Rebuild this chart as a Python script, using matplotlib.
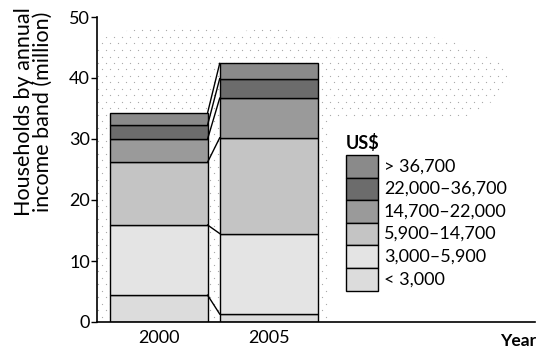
import matplotlib
matplotlib.use("Agg")
import matplotlib.pyplot as plt
import numpy as np
from matplotlib.patches import Rectangle, Polygon

years = ["2000", "2005"]
bands = ["< 3,000", "3,000–5,900", "5,900–14,700", "14,700–22,000", "22,000–36,700", "> 36,700"]
v2000 = [4.4, 11.5, 10.3, 3.8, 2.3, 2.0]
v2005 = [1.3, 13.2, 15.7, 6.5, 3.2, 2.5]
colors = ["#dcdcdc", "#e4e4e4", "#c4c4c4", "#9a9a9a", "#6c6c6c", "#8a8a8a"]

plt.rcParams['font.family'] = ['Lato', 'DejaVu Sans']

W, H = 547, 353
fig = plt.figure(figsize=(W/100, H/100), dpi=100)
ax = fig.add_axes([97/W, 31/H, (535-97)/W, (322-17)/H])

x = np.arange(len(years))
width = 0.89
data = np.array([v2000, v2005])

# faint stippled background (decorative), outline in pixel coordinates
px = [97, 97, 130, 180, 230, 280, 330, 380, 410, 450, 475, 500, 510, 495, 470, 330, 328]
py = [322, 40, 30, 25, 32, 28, 38, 35, 33, 40, 50, 62, 82, 100, 116, 118, 322]
poly_pts = [((p - 159) / 110, (322 - q) / 6.1) for p, q in zip(px, py)]
poly = Polygon(poly_pts, closed=True, facecolor='none', edgecolor='none', transform=ax.transData)
ax.add_patch(poly)
gx, gy = np.meshgrid(np.arange(98, 512, 8.0), np.arange(24, 322, 6.5))
gx = gx + (np.arange(gx.shape[0])[:, None] % 2) * 4.0
dots = ax.scatter((gx.ravel() - 159) / 110, (322 - gy.ravel()) / 6.1, s=0.8,
                  color='#a8a8a8', linewidths=0, zorder=0)
dots.set_clip_path(poly)

bottoms = np.zeros(len(years))
for i, band in enumerate(bands):
    vals = data[:, i]
    ax.bar(x, vals, width, bottom=bottoms, color=colors[i], edgecolor='black',
           linewidth=1.0, zorder=2)
    bottoms = bottoms + vals

# connector lines between bars
cum = np.cumsum(np.hstack([np.zeros((2, 1)), data]), axis=1)
for j in range(cum.shape[1]):
    ax.plot([x[0] + width/2, x[1] - width/2], [cum[0, j], cum[1, j]],
            color='black', lw=1.0, zorder=3)

ax.set_ylim(0, 50)
ax.set_xlim(-0.56, 3.42)
ax.set_yticks([0, 10, 20, 30, 40, 50])
ax.set_xticks(x)
ax.set_xticklabels(years, fontsize=13)
ax.tick_params(axis='x', length=0, pad=6)
ax.tick_params(axis='y', direction='out', length=4, width=1, labelsize=13, pad=1)
for s in ['top', 'right']:
    ax.spines[s].set_visible(False)
ax.spines['left'].set_linewidth(1.2)
ax.spines['bottom'].set_linewidth(1.2)

fig.text(33/W, 1 - 112/H, "Households by annual\nincome band (million)", fontsize=15.5,
         rotation=90, ha='center', va='center', linespacing=0.92)

fig.text(518/W, 1 - 341/H, "Year", fontsize=12.5, fontweight='bold', ha='center', va='center')

# legend
fig.text(346/W, 1 - 143/H, "US$", fontsize=13, fontweight='bold', ha='left', va='center')
lx0, lw_, lh = 346, 32, 22.6
ytop = 155
for k, band in enumerate(reversed(bands)):
    idx = len(bands) - 1 - k
    y0 = ytop + k * lh
    r = Rectangle((lx0/W, 1 - (y0 + lh)/H), lw_/W, lh/H, transform=fig.transFigure,
                  facecolor=colors[idx], edgecolor='black', linewidth=1.0)
    fig.add_artist(r)
    fig.text(384/W, 1 - (y0 + lh/2)/H, band, fontsize=13, ha='left', va='center')

fig.savefig("out.png", dpi=100)
